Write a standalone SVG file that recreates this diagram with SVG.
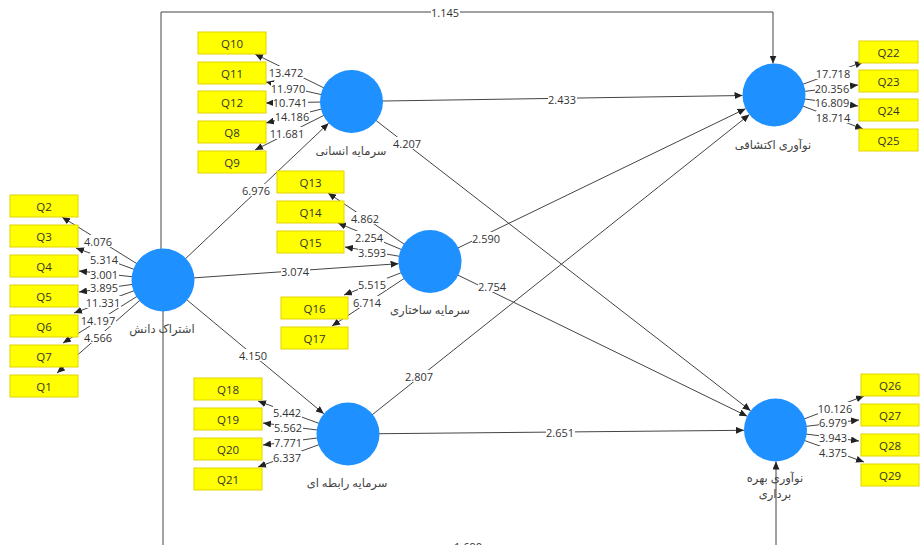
<svg xmlns="http://www.w3.org/2000/svg" width="920" height="545" viewBox="0 0 920 545">
<style>
.ln{stroke:#444;stroke-width:1;fill:none}
.ar{marker-end:url(#ah)}
.bg{fill:#fff}
.lbl{font-family:"Open Sans","Noto Sans","DejaVu Sans",sans-serif;font-size:11px;fill:#333;text-anchor:middle;dominant-baseline:central}
.box{fill:#ffff00;stroke:#e2d400;stroke-width:1}
.bt{font-family:"Open Sans","Noto Sans","DejaVu Sans",sans-serif;font-size:11.5px;fill:#333;text-anchor:middle;dominant-baseline:central}
.lv{fill:#1e90ff}
.nt{font-family:"Open Sans","Noto Sans","DejaVu Sans",sans-serif;font-size:11.5px;fill:#444;text-anchor:middle;dominant-baseline:central}
</style>
<defs>
<marker id="ah" markerUnits="userSpaceOnUse" markerWidth="8" markerHeight="7" refX="8" refY="3.5" orient="auto">
<path d="M0,0 L8,3.5 L0,7 z" fill="#222"/>
</marker>
</defs>
<rect width="920" height="545" fill="#fff"/>
<g id="connectors">
<line class="ln ar" x1="163" y1="280" x2="62" y2="217"/>
<line class="ln ar" x1="163" y1="280" x2="76" y2="248"/>
<line class="ln ar" x1="163" y1="280" x2="79" y2="271"/>
<line class="ln ar" x1="163" y1="280" x2="79" y2="292"/>
<line class="ln ar" x1="163" y1="280" x2="74" y2="313"/>
<line class="ln ar" x1="163" y1="280" x2="63" y2="343"/>
<line class="ln ar" x1="163" y1="280" x2="57" y2="373"/>
<line class="ln ar" x1="351.5" y1="101.5" x2="255" y2="54"/>
<line class="ln ar" x1="351.5" y1="101.5" x2="266" y2="82"/>
<line class="ln ar" x1="351.5" y1="101.5" x2="266" y2="103"/>
<line class="ln ar" x1="351.5" y1="101.5" x2="266" y2="123"/>
<line class="ln ar" x1="351.5" y1="101.5" x2="255" y2="150"/>
<line class="ln ar" x1="430" y1="261.5" x2="328" y2="193"/>
<line class="ln ar" x1="430" y1="261.5" x2="338" y2="223"/>
<line class="ln ar" x1="430" y1="261.5" x2="345" y2="247"/>
<line class="ln ar" x1="430" y1="261.5" x2="344" y2="295"/>
<line class="ln ar" x1="430" y1="261.5" x2="332" y2="326"/>
<line class="ln ar" x1="348" y1="434" x2="258" y2="401"/>
<line class="ln ar" x1="348" y1="434" x2="263" y2="423"/>
<line class="ln ar" x1="348" y1="434" x2="263" y2="445"/>
<line class="ln ar" x1="348" y1="434" x2="258" y2="467"/>
<line class="ln ar" x1="774" y1="95" x2="863" y2="62"/>
<line class="ln ar" x1="774" y1="95" x2="858" y2="85"/>
<line class="ln ar" x1="774" y1="95" x2="858" y2="106"/>
<line class="ln ar" x1="774" y1="95" x2="863" y2="129"/>
<line class="ln ar" x1="775.5" y1="430" x2="864" y2="396"/>
<line class="ln ar" x1="775.5" y1="430" x2="859" y2="420"/>
<line class="ln ar" x1="775.5" y1="430" x2="859" y2="441"/>
<line class="ln ar" x1="775.5" y1="430" x2="864" y2="462"/>
<line class="ln ar" x1="163" y1="280" x2="328.6" y2="123.2"/>
<line class="ln ar" x1="163" y1="280" x2="398.6" y2="263.7"/>
<line class="ln ar" x1="163" y1="280" x2="323.8" y2="413.8"/>
<line class="ln ar" x1="351.5" y1="101.5" x2="742.5" y2="95.5"/>
<line class="ln ar" x1="351.5" y1="101.5" x2="750.6" y2="410.7"/>
<line class="ln ar" x1="430" y1="261.5" x2="745.6" y2="108.7"/>
<line class="ln ar" x1="430" y1="261.5" x2="747.2" y2="416.2"/>
<line class="ln ar" x1="348" y1="434" x2="749.4" y2="114.6"/>
<line class="ln ar" x1="348" y1="434" x2="744" y2="430.3"/>
<polyline class="ln ar" points="161,249 161,12 773,12 773,63.5"/>
<polyline class="ln ar" points="163,311 163,549 776,549 776,461.5"/>
<g id="label-bg">
<rect class="bg" x="84" y="235" width="29" height="12"/>
<rect class="bg" x="90" y="253" width="29" height="12"/>
<rect class="bg" x="90" y="268" width="29" height="12"/>
<rect class="bg" x="90" y="281" width="29" height="12"/>
<rect class="bg" x="86" y="296" width="35" height="12"/>
<rect class="bg" x="81" y="314" width="35" height="12"/>
<rect class="bg" x="84" y="331" width="29" height="12"/>
<rect class="bg" x="269" y="66" width="35" height="12"/>
<rect class="bg" x="271" y="82" width="35" height="12"/>
<rect class="bg" x="273" y="96" width="35" height="12"/>
<rect class="bg" x="275" y="110" width="35" height="12"/>
<rect class="bg" x="270" y="127" width="35" height="12"/>
<rect class="bg" x="351" y="212" width="29" height="12"/>
<rect class="bg" x="355" y="231" width="29" height="12"/>
<rect class="bg" x="358" y="246" width="29" height="12"/>
<rect class="bg" x="358" y="278" width="29" height="12"/>
<rect class="bg" x="353" y="296" width="29" height="12"/>
<rect class="bg" x="273" y="406" width="29" height="12"/>
<rect class="bg" x="274" y="421" width="29" height="12"/>
<rect class="bg" x="274" y="436" width="29" height="12"/>
<rect class="bg" x="273" y="451" width="29" height="12"/>
<rect class="bg" x="816" y="67" width="35" height="12"/>
<rect class="bg" x="815" y="82" width="35" height="12"/>
<rect class="bg" x="815" y="96" width="35" height="12"/>
<rect class="bg" x="816" y="111" width="35" height="12"/>
<rect class="bg" x="818" y="402" width="35" height="12"/>
<rect class="bg" x="819" y="416" width="29" height="12"/>
<rect class="bg" x="819" y="431" width="29" height="12"/>
<rect class="bg" x="819" y="446" width="29" height="12"/>
<rect class="bg" x="242" y="184" width="29" height="12"/>
<rect class="bg" x="281" y="265" width="29" height="12"/>
<rect class="bg" x="239" y="349" width="29" height="12"/>
<rect class="bg" x="548" y="93" width="29" height="12"/>
<rect class="bg" x="393" y="137" width="29" height="12"/>
<rect class="bg" x="472" y="232" width="29" height="12"/>
<rect class="bg" x="478" y="280" width="29" height="12"/>
<rect class="bg" x="405" y="370" width="29" height="12"/>
<rect class="bg" x="546" y="426" width="29" height="12"/>
<rect class="bg" x="431" y="6" width="29" height="12"/>
<rect class="bg" x="454" y="540" width="29" height="12"/>
</g>
<text class="lbl" x="98" y="241">4.076</text>
<text class="lbl" x="104" y="259">5.314</text>
<text class="lbl" x="104" y="274">3.001</text>
<text class="lbl" x="104" y="287">3.895</text>
<text class="lbl" x="103" y="302">11.331</text>
<text class="lbl" x="98" y="320">14.197</text>
<text class="lbl" x="98" y="337">4.566</text>
<text class="lbl" x="286" y="72">13.472</text>
<text class="lbl" x="288" y="88">11.970</text>
<text class="lbl" x="290" y="102">10.741</text>
<text class="lbl" x="292" y="116">14.186</text>
<text class="lbl" x="287" y="133">11.681</text>
<text class="lbl" x="365" y="218">4.862</text>
<text class="lbl" x="369" y="237">2.254</text>
<text class="lbl" x="372" y="252">3.593</text>
<text class="lbl" x="372" y="284">5.515</text>
<text class="lbl" x="367" y="302">6.714</text>
<text class="lbl" x="287" y="412">5.442</text>
<text class="lbl" x="288" y="427">5.562</text>
<text class="lbl" x="288" y="442">7.771</text>
<text class="lbl" x="287" y="457">6.337</text>
<text class="lbl" x="833" y="73">17.718</text>
<text class="lbl" x="832" y="88">20.356</text>
<text class="lbl" x="832" y="102">16.809</text>
<text class="lbl" x="833" y="117">18.714</text>
<text class="lbl" x="835" y="408">10.126</text>
<text class="lbl" x="833" y="422">6.979</text>
<text class="lbl" x="833" y="437">3.943</text>
<text class="lbl" x="833" y="452">4.375</text>
<text class="lbl" x="256" y="190">6.976</text>
<text class="lbl" x="295" y="271">3.074</text>
<text class="lbl" x="253" y="355">4.150</text>
<text class="lbl" x="562" y="99">2.433</text>
<text class="lbl" x="407" y="143">4.207</text>
<text class="lbl" x="486" y="238">2.590</text>
<text class="lbl" x="492" y="286">2.754</text>
<text class="lbl" x="419" y="376">2.807</text>
<text class="lbl" x="560" y="432">2.651</text>
<text class="lbl" x="445" y="12">1.145</text>
<text class="lbl" x="468" y="546">1.690</text>
</g>
<g id="ind-Q2"><rect class="box" x="10" y="195" width="68" height="22"/><text class="bt" x="44" y="206">Q2</text></g>
<g id="ind-Q3"><rect class="box" x="10" y="225" width="68" height="22"/><text class="bt" x="44" y="236">Q3</text></g>
<g id="ind-Q4"><rect class="box" x="10" y="255" width="68" height="22"/><text class="bt" x="44" y="266">Q4</text></g>
<g id="ind-Q5"><rect class="box" x="10" y="285" width="68" height="22"/><text class="bt" x="44" y="296">Q5</text></g>
<g id="ind-Q6"><rect class="box" x="10" y="315" width="68" height="22"/><text class="bt" x="44" y="326">Q6</text></g>
<g id="ind-Q7"><rect class="box" x="10" y="345" width="68" height="22"/><text class="bt" x="44" y="356">Q7</text></g>
<g id="ind-Q1"><rect class="box" x="10" y="375" width="68" height="22"/><text class="bt" x="44" y="386">Q1</text></g>
<g id="ind-Q10"><rect class="box" x="198" y="32" width="68" height="22"/><text class="bt" x="232" y="43">Q10</text></g>
<g id="ind-Q11"><rect class="box" x="198" y="62" width="68" height="22"/><text class="bt" x="232" y="73">Q11</text></g>
<g id="ind-Q12"><rect class="box" x="198" y="91" width="68" height="22"/><text class="bt" x="232" y="102">Q12</text></g>
<g id="ind-Q8"><rect class="box" x="198" y="121" width="68" height="22"/><text class="bt" x="232" y="132">Q8</text></g>
<g id="ind-Q9"><rect class="box" x="198" y="151" width="68" height="22"/><text class="bt" x="232" y="162">Q9</text></g>
<g id="ind-Q13"><rect class="box" x="277" y="171" width="67" height="22"/><text class="bt" x="310.5" y="182">Q13</text></g>
<g id="ind-Q14"><rect class="box" x="277" y="201" width="67" height="22"/><text class="bt" x="310.5" y="212">Q14</text></g>
<g id="ind-Q15"><rect class="box" x="277" y="231" width="67" height="22"/><text class="bt" x="310.5" y="242">Q15</text></g>
<g id="ind-Q16"><rect class="box" x="281" y="297" width="67" height="22"/><text class="bt" x="314.5" y="308">Q16</text></g>
<g id="ind-Q17"><rect class="box" x="281" y="327" width="67" height="22"/><text class="bt" x="314.5" y="338">Q17</text></g>
<g id="ind-Q18"><rect class="box" x="194" y="378" width="68" height="22"/><text class="bt" x="228" y="389">Q18</text></g>
<g id="ind-Q19"><rect class="box" x="194" y="408" width="68" height="22"/><text class="bt" x="228" y="419">Q19</text></g>
<g id="ind-Q20"><rect class="box" x="194" y="438" width="68" height="22"/><text class="bt" x="228" y="449">Q20</text></g>
<g id="ind-Q21"><rect class="box" x="194" y="468" width="68" height="22"/><text class="bt" x="228" y="479">Q21</text></g>
<g id="ind-Q22"><rect class="box" x="859" y="41" width="59" height="22"/><text class="bt" x="888.5" y="52">Q22</text></g>
<g id="ind-Q23"><rect class="box" x="859" y="70" width="59" height="22"/><text class="bt" x="888.5" y="81">Q23</text></g>
<g id="ind-Q24"><rect class="box" x="859" y="99" width="59" height="22"/><text class="bt" x="888.5" y="110">Q24</text></g>
<g id="ind-Q25"><rect class="box" x="859" y="129" width="59" height="22"/><text class="bt" x="888.5" y="140">Q25</text></g>
<g id="ind-Q26"><rect class="box" x="861" y="374" width="58" height="22"/><text class="bt" x="890" y="385">Q26</text></g>
<g id="ind-Q27"><rect class="box" x="861" y="404" width="58" height="22"/><text class="bt" x="890" y="415">Q27</text></g>
<g id="ind-Q28"><rect class="box" x="861" y="434" width="58" height="22"/><text class="bt" x="890" y="445">Q28</text></g>
<g id="ind-Q29"><rect class="box" x="861" y="464" width="58" height="22"/><text class="bt" x="890" y="475">Q29</text></g>
<g id="lv-sharing"><circle class="lv" cx="163" cy="280" r="31.5"/><text class="nt" x="162" y="328">اشتراک دانش</text></g>
<g id="lv-human"><circle class="lv" cx="351.5" cy="101.5" r="31.5"/><text class="nt" x="351" y="150">سرمایه انسانی</text></g>
<g id="lv-structural"><circle class="lv" cx="430" cy="261.5" r="31.5"/><text class="nt" x="430" y="309">سرمایه ساختاری</text></g>
<g id="lv-relational"><circle class="lv" cx="348" cy="434" r="31.5"/><text class="nt" x="347" y="482">سرمایه رابطه ای</text></g>
<g id="lv-exploratory"><circle class="lv" cx="774" cy="95" r="31.5"/><text class="nt" x="773" y="144">نوآوری اکتشافی</text></g>
<g id="lv-exploitative"><circle class="lv" cx="775.5" cy="430" r="31.5"/><text class="nt" x="775" y="477">نوآوری بهره</text><text class="nt" x="775" y="493">برداری</text></g>
</svg>
